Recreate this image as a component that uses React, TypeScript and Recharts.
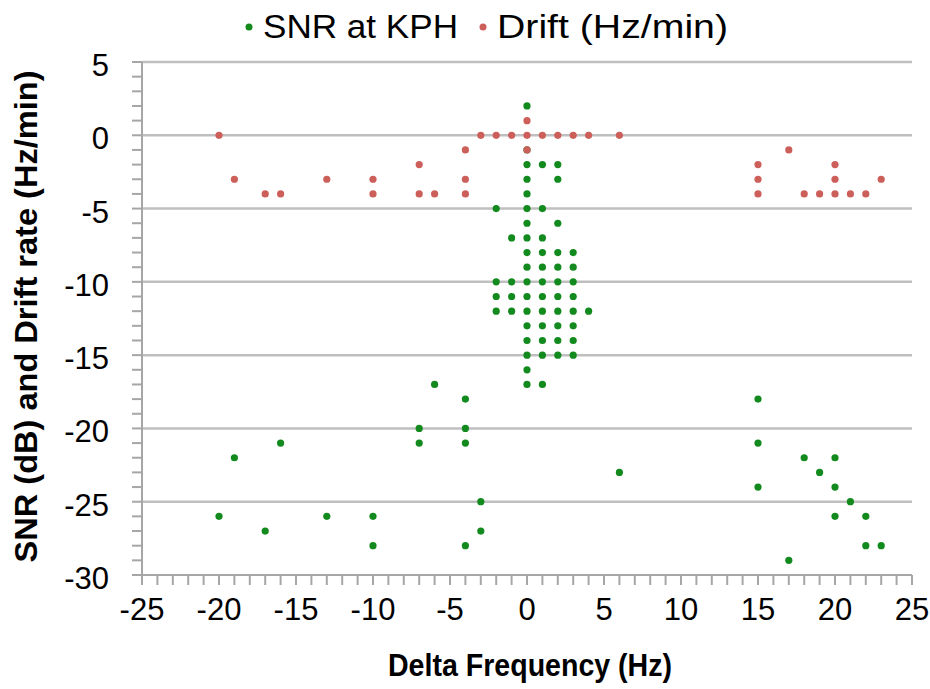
import { ScatterChart, Scatter, XAxis, YAxis, ReferenceLine, Legend } from "recharts";

// SNR at KPH (green)
const snrFreq = [
  0,
  0,
  0, 1, 2,
  0, 2,
  0,
  -2, 0, 1,
  0, 2,
  -1, 0, 1,
  0, 1, 2, 3,
  0, 1, 2, 3,
  -2, -1, 0, 1, 2, 3,
  -2, -1, 0, 1, 2, 3,
  -2, -1, 0, 1, 2, 3, 4,
  0, 1, 2, 3,
  0, 1, 2, 3,
  0, 1, 2, 3,
  0,
  0, 1, -6,
  -4, 15,
  -7, -4,
  -16, -7, -4, 15,
  -19, 18, 20,
  6, 19,
  15, 20,
  -3, 21,
  -20, -13, -10, 20, 22,
  -17, -3,
  -10, -4, 22, 23,
  17,
];
const snrDb = [
  2,
  -1,
  -2, -2, -2,
  -3, -3,
  -4,
  -5, -5, -5,
  -6, -6,
  -7, -7, -7,
  -8, -8, -8, -8,
  -9, -9, -9, -9,
  -10, -10, -10, -10, -10, -10,
  -11, -11, -11, -11, -11, -11,
  -12, -12, -12, -12, -12, -12, -12,
  -13, -13, -13, -13,
  -14, -14, -14, -14,
  -15, -15, -15, -15,
  -16,
  -17, -17, -17,
  -18, -18,
  -20, -20,
  -21, -21, -21, -21,
  -22, -22, -22,
  -23, -23,
  -24, -24,
  -25, -25,
  -26, -26, -26, -26, -26,
  -27, -27,
  -28, -28, -28, -28,
  -29,
];

// Drift (Hz/min) (red)
const driftFreq = [
  0,
  -20, -3, -2, -1, 0, 1, 2, 3, 4, 6,
  -4, 0, 17,
  -7, 15, 20,
  -19, -13, -10, -4, 15, 20, 23,
  -17, -16, -10, -7, -6, -4, 15, 18, 19, 20, 21, 22,
];
const driftRate = [
  1,
  0, 0, 0, 0, 0, 0, 0, 0, 0, 0,
  -1, -1, -1,
  -2, -2, -2,
  -3, -3, -3, -3, -3, -3, -3,
  -4, -4, -4, -4, -4, -4, -4, -4, -4, -4, -4, -4,
];

const xMajor = [-25, -20, -15, -10, -5, 0, 5, 10, 15, 20, 25];
const yMajor = [5, 0, -5, -10, -15, -20, -25, -30];
const xTicks = Array.from({ length: 51 }, (_, i) => i - 25);
const yTicks = Array.from({ length: 36 }, (_, i) => i - 30);

const snrData = snrFreq.map((x, i) => ({ x, y: snrDb[i] }));
const driftData = driftFreq.map((x, i) => ({ x, y: driftRate[i] }));

const GREEN = "#128A1E";
const RED = "#CD5F5B";
const AXIS = "#A6A6A6";
const GRID = "#BFBFBF";
const FONT = "'Liberation Sans', Arial, sans-serif";

const XTick = (props: any) => {
  const { x, y, payload } = props;
  if (!xMajor.includes(payload.value)) return <g />;
  return (
    <text x={x} y={y + 33} textAnchor="middle" fontFamily={FONT} fontSize={31} fill="#000">
      {payload.value}
    </text>
  );
};

const YTick = (props: any) => {
  const { x, y, payload } = props;
  if (!yMajor.includes(payload.value)) return <g />;
  return (
    <text x={x} y={y + 14} textAnchor="end" fontFamily={FONT} fontSize={31} fill="#000">
      {payload.value}
    </text>
  );
};

const XTitle = (props: any) => {
  const vb = props.viewBox;
  return (
    <text
      x={vb.x + vb.width / 2 + 3}
      y={vb.y + 101}
      textAnchor="middle"
      fontFamily={FONT}
      fontWeight="bold"
      fontSize={32}
      textLength={284}
      lengthAdjust="spacingAndGlyphs"
      fill="#000"
    >
      Delta Frequency (Hz)
    </text>
  );
};

const YTitle = (props: any) => {
  const vb = props.viewBox;
  const cx = 37;
  const cy = vb.y + vb.height / 2 - 2;
  return (
    <text
      x={cx}
      y={cy}
      transform={`rotate(-90, ${cx}, ${cy})`}
      textAnchor="middle"
      fontFamily={FONT}
      fontWeight="bold"
      fontSize={32}
      textLength={492}
      lengthAdjust="spacingAndGlyphs"
      fill="#000"
    >
      SNR (dB) and Drift rate (Hz/min)
    </text>
  );
};

const LegendBox = () => (
  <svg width={930} height={56}>
    <circle cx={249} cy={27} r={3.5} fill={GREEN} />
    <text x={263} y={38} fontFamily={FONT} fontSize={34} textLength={195} lengthAdjust="spacingAndGlyphs" fill="#000">
      SNR at KPH
    </text>
    <circle cx={483} cy={27} r={3.5} fill={RED} />
    <text x={497} y={38} fontFamily={FONT} fontSize={34} textLength={231} lengthAdjust="spacingAndGlyphs" fill="#000">
      Drift (Hz/min)
    </text>
  </svg>
);

const dot = (color: string) => (props: any) =>
  <circle cx={props.cx} cy={props.cy} r={3.6} fill={color} />;

export default function App() {
  return (
    <div style={{ position: "absolute", left: 0, top: 0, width: 930, height: 689, background: "#fff" }}>
      <ScatterChart width={930} height={689} margin={{ top: 62, right: 18, bottom: 0, left: 0 }}>
        {yMajor.slice(0, -1).map((v) => (
          <ReferenceLine key={v} y={v} stroke={GRID} strokeWidth={2.5} />
        ))}
        <XAxis
          type="number"
          dataKey="x"
          domain={[-25, 25]}
          ticks={xTicks}
          interval={0}
          height={114}
          tickSize={10}
          axisLine={{ stroke: AXIS, strokeWidth: 2 }}
          tickLine={{ stroke: AXIS, strokeWidth: 2 }}
          tick={<XTick />}
          label={<XTitle />}
        />
        <YAxis
          type="number"
          dataKey="y"
          domain={[-30, 5]}
          ticks={yTicks}
          interval={0}
          width={142}
          tickSize={10}
          tickMargin={23}
          axisLine={{ stroke: AXIS, strokeWidth: 2 }}
          tickLine={{ stroke: AXIS, strokeWidth: 2 }}
          tick={<YTick />}
          label={<YTitle />}
        />
        <Legend
          verticalAlign="middle"
          align="center"
          layout="horizontal"
          wrapperStyle={{ top: 0, left: 0, width: 930, height: 56 }}
          content={<LegendBox />}
        />
        <Scatter name="SNR at KPH" data={snrData} fill={GREEN} shape={dot(GREEN)} isAnimationActive={false} />
        <Scatter name="Drift (Hz/min)" data={driftData} fill={RED} shape={dot(RED)} isAnimationActive={false} />
      </ScatterChart>
    </div>
  );
}
